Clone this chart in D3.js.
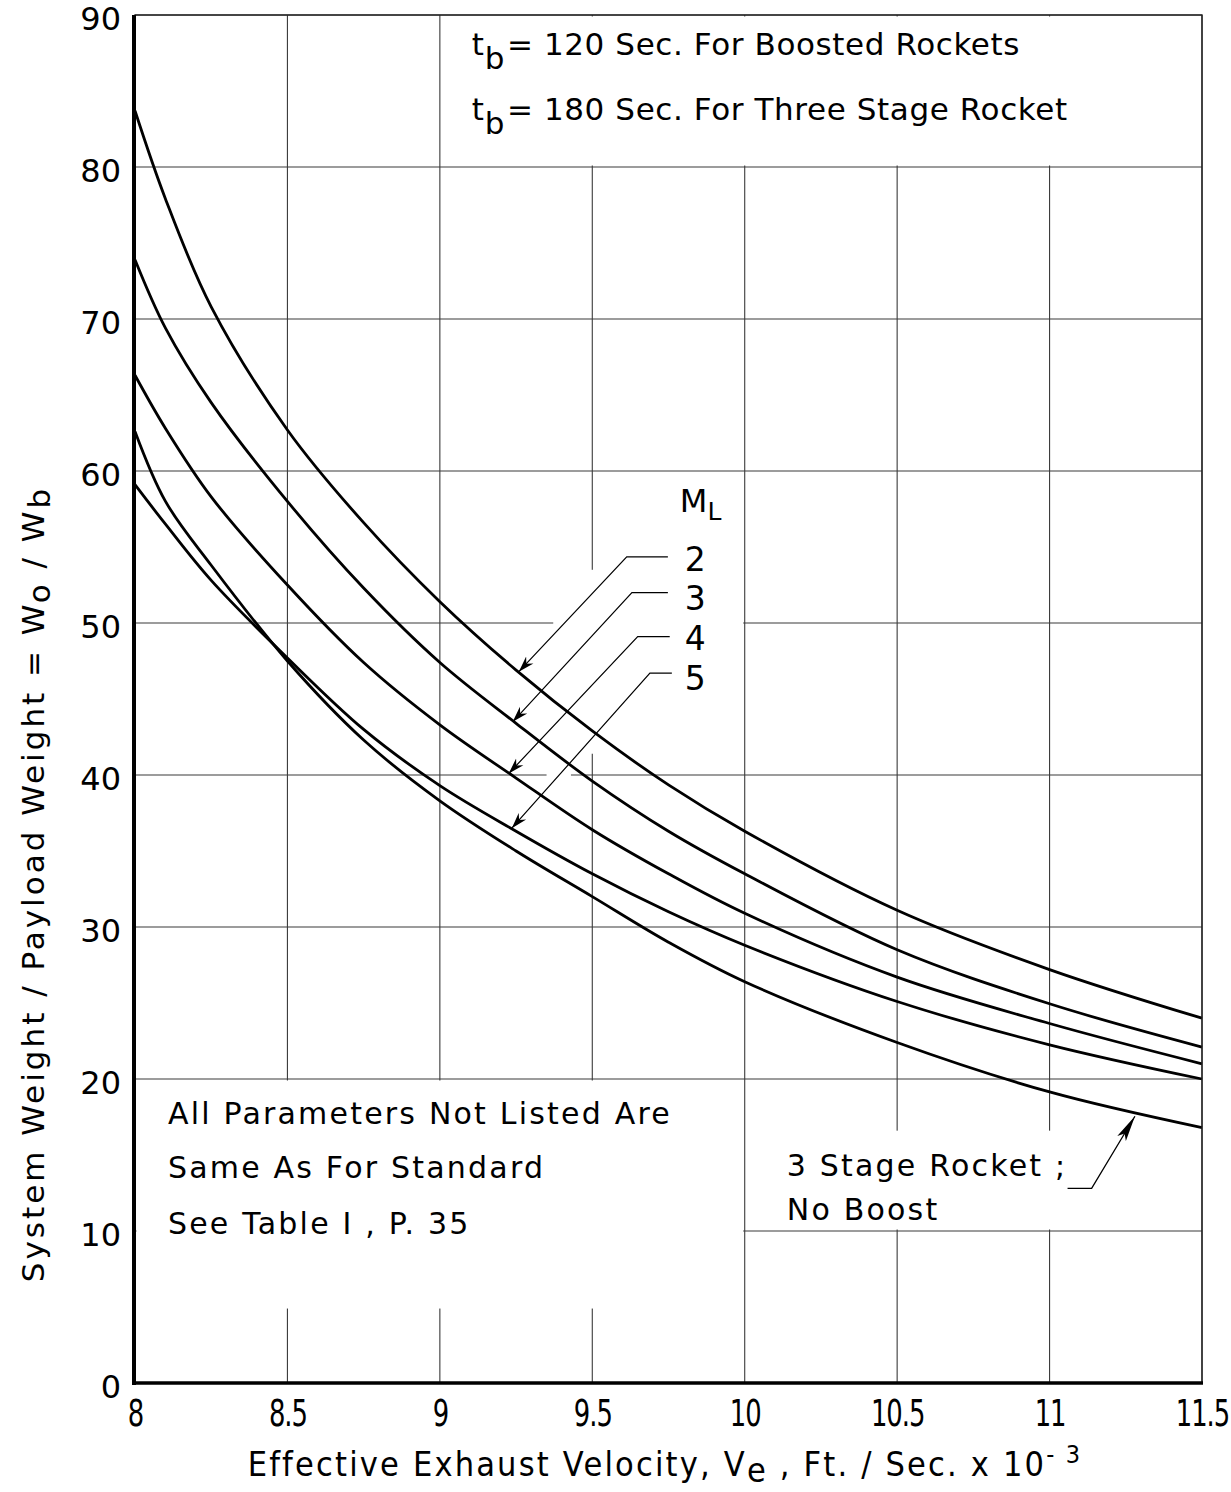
<!DOCTYPE html>
<html><head><meta charset="utf-8">
<script src="https://cdn.jsdelivr.net/npm/d3@7"></script>
<style>body{margin:0;background:#fff} svg{display:block}</style>
</head><body>
<svg id="chart" width="1231" height="1492"></svg>
<script>
// ---- data ----
const velocities = [8, 8.1, 8.25, 8.5, 8.75, 9, 9.25, 9.5, 9.75, 10, 10.5, 11, 11.5];
const seriesML2 = [83.7, 77.9, 70.8, 62.7, 56.6, 51.4, 46.9, 42.9, 39.35, 36.3, 31.1, 27.2, 24.0];
const seriesML3 = [73.9, 69.4, 64.5, 58.0, 52.3, 47.4, 43.4, 39.6, 36.3, 33.5, 28.5, 24.95, 22.1];
const seriesML4 = [66.3, 62.8, 58.3, 52.5, 47.4, 43.3, 39.8, 36.4, 33.5, 30.9, 26.7, 23.65, 21.0];
const seriesML5 = [59.1, 56.5, 52.8, 47.7, 43.0, 39.3, 36.3, 33.5, 31.0, 28.8, 25.1, 22.25, 20.0];
const seriesThreeStage = [62.6, 58.0, 53.8, 47.5, 42.3, 38.3, 35.0, 32.0, 29.0, 26.4, 22.4, 19.15, 16.8];
const xTicks = [8, 8.5, 9, 9.5, 10, 10.5, 11, 11.5];
const xTickLabels = ["8", "8.5", "9", "9.5", "10", "10.5", "11", "11.5"];
const yTicks = [0, 10, 20, 30, 40, 50, 60, 70, 80, 90];
const mlLabels = ["2", "3", "4", "5"];
// leader lines for M_L labels, in data units: [start, elbow, arrow tip]
const mlLeaders = [
  [[9.748, 54.35], [9.613, 54.35], [9.259, 46.8]],
  [[9.748, 52.0], [9.630, 52.0], [9.239, 43.5]],
  [[9.754, 49.1], [9.649, 49.1], [9.226, 40.1]],
  [[9.761, 46.7], [9.689, 46.7], [9.236, 36.5]]
];
const threeStageLeader = [[11.059, 12.8], [11.138, 12.8], [11.28, 17.55]];

// ---- scales ----
const svg = d3.select("#chart");
const x = d3.scaleLinear().domain([8, 11.5]).range([135, 1202]);
const y = d3.scaleLinear().domain([0, 90]).range([1383, 15]);
const FONT = "'DejaVu Sans', sans-serif";

// ---- grid ----
const grid = svg.append("g").attr("stroke", "#3a3a3a").attr("stroke-width", 1.1);
grid.selectAll("line.v").data(xTicks).join("line").attr("class", "v")
  .attr("x1", d => x(d)).attr("x2", d => x(d)).attr("y1", y(0)).attr("y2", y(90));
grid.selectAll("line.h").data(yTicks).join("line").attr("class", "h")
  .attr("x1", x(8)).attr("x2", x(11.5)).attr("y1", d => y(d)).attr("y2", d => y(d));

// white label boxes that interrupt the grid
const maskBoxes = [
  {x0: 9, x1: 11.5, y0: 80, y1: 90, inset: 1.5},
  {x0: 8, x1: 10, y0: 4.8, y1: 20, inset: 1.5},
  {x0: 10, x1: 11.5, y0: 10, y1: 16.7, inset: 1.5},
  {x0: 9.367, x1: 10, y0: 41.3, y1: 53.6, inset: 1.5},
  {x0: 9.35, x1: 9.43, y0: 39.6, y1: 40.4, inset: 0}
];
svg.append("g").selectAll("rect").data(maskBoxes).join("rect")
  .attr("x", d => x(d.x0) + d.inset).attr("y", d => y(d.y1) + d.inset)
  .attr("width", d => x(d.x1) - x(d.x0) - 2 * d.inset)
  .attr("height", d => y(d.y0) - y(d.y1) - 2 * d.inset)
  .attr("fill", "#fff");

// ---- curves ----
const allSeries = [seriesML2, seriesML3, seriesML4, seriesML5, seriesThreeStage];
const line = d3.line().x(d => x(d[0])).y(d => y(d[1])).curve(d3.curveCatmullRom.alpha(0.5));
svg.append("g").selectAll("path").data(allSeries).join("path")
  .attr("d", s => line(velocities.map((v, i) => [v, s[i]])))
  .attr("fill", "none").attr("stroke", "#000").attr("stroke-width", 2.8);

// ---- frame / axes ----
svg.append("rect").attr("x", x(8)).attr("y", y(90)).attr("width", x(11.5) - x(8)).attr("height", y(0) - y(90))
  .attr("fill", "none").attr("stroke", "#222").attr("stroke-width", 1.4);
svg.append("line").attr("x1", x(8) - 1).attr("x2", x(8) - 1).attr("y1", y(90)).attr("y2", y(0) + 2)
  .attr("stroke", "#000").attr("stroke-width", 4);
svg.append("line").attr("x1", x(8) - 2).attr("x2", x(11.5) + 1).attr("y1", y(0)).attr("y2", y(0))
  .attr("stroke", "#000").attr("stroke-width", 3.5);

const yAxis = svg.append("g").attr("transform", `translate(${x(8)},0)`)
  .call(d3.axisLeft(y).tickValues(yTicks).tickSize(0).tickPadding(14));
yAxis.select(".domain").remove();
yAxis.selectAll("text").attr("font-family", FONT).attr("font-size", 32).attr("fill", "#000").attr("dy", "0.45em");

const xAxis = svg.append("g").attr("transform", `translate(0,${y(0)})`)
  .call(d3.axisBottom(x).tickValues(xTicks).tickFormat((d, i) => xTickLabels[i]).tickSize(0).tickPadding(17));
xAxis.select(".domain").remove();
xAxis.selectAll("text").attr("font-family", FONT).attr("font-size", 37).attr("fill", "#000")
  .attr("letter-spacing", -1.5).attr("transform", "scale(0.7,1)");

// axis titles
const xt = svg.append("text").attr("x", 665).attr("y", 1476).attr("text-anchor", "middle")
  .attr("font-family", FONT).attr("font-size", 34).attr("letter-spacing", 2.4)
  .attr("transform", "translate(665,0) scale(0.9,1) translate(-665,0)");
xt.append("tspan").text("Effective  Exhaust  Velocity, V");
xt.append("tspan").attr("dy", 6).text("e");
xt.append("tspan").attr("dy", -6).text(" , Ft. / Sec. x 10");
xt.append("tspan").attr("dy", -13).attr("font-size", 25).text("- 3");

const yt = svg.append("text").attr("transform", "translate(44,884) rotate(-90)").attr("text-anchor", "middle")
  .attr("font-family", FONT).attr("font-size", 31).attr("letter-spacing", 3.0);
yt.append("tspan").text("System Weight / Payload Weight = W");
yt.append("tspan").attr("dy", 6).text("o");
yt.append("tspan").attr("dy", -6).text(" / W");
yt.append("tspan").attr("dy", 6).text("b");

// ---- annotations ----
function sublabel(xv, yv, main, sub, rest, size) {
  const t = svg.append("text").attr("x", x(xv)).attr("y", y(yv)).attr("font-family", FONT)
    .attr("font-size", size).attr("letter-spacing", 0.6);
  t.append("tspan").text(main);
  t.append("tspan").attr("dy", 14).text(sub);
  t.append("tspan").attr("dy", -14).attr("dx", 2).text(rest);
  return t;
}
sublabel(9.105, 87.4, "t", "b", "= 120 Sec. For Boosted Rockets", 31);
sublabel(9.105, 83.1, "t", "b", "= 180 Sec. For Three Stage Rocket", 31);

const noteLines = ["All  Parameters  Not  Listed  Are", "Same  As  For  Standard", "See  Table  I , P. 35"];
const noteY = [17.05, 13.5, 9.8];
svg.append("g").selectAll("text").data(noteLines).join("text")
  .attr("x", x(8.108)).attr("y", (d, i) => y(noteY[i]))
  .attr("font-family", FONT).attr("font-size", 30).attr("letter-spacing", 2.2).text(d => d);

const stageLines = ["3 Stage  Rocket ;", "No  Boost"];
const stageY = [13.65, 10.7];
svg.append("g").selectAll("text").data(stageLines).join("text")
  .attr("x", x(10.138)).attr("y", (d, i) => y(stageY[i]))
  .attr("font-family", FONT).attr("font-size", 30).attr("letter-spacing", 2.2).text(d => d);

// M_L label
const ml = svg.append("text").attr("x", x(9.787)).attr("y", y(57.3)).attr("font-family", FONT).attr("font-size", 32);
ml.append("tspan").text("M");
ml.append("tspan").attr("dy", 8).attr("font-size", 25).text("L");
const mlY = [53.4, 50.85, 48.2, 45.6];
svg.append("g").selectAll("text").data(mlLabels).join("text")
  .attr("x", x(9.803)).attr("y", (d, i) => y(mlY[i]))
  .attr("font-family", FONT).attr("font-size", 33).text(d => d);

// arrow markers
const defs = svg.append("defs");
defs.append("marker").attr("id", "barb").attr("viewBox", "-16 -6 18 12").attr("refX", 0).attr("refY", 0)
  .attr("markerWidth", 18).attr("markerHeight", 12).attr("markerUnits", "userSpaceOnUse").attr("orient", "auto")
  .append("path").attr("d", "M0,0 L-16,-5 L-11,0 L-16,5 Z").attr("fill", "#000");
defs.append("marker").attr("id", "solid").attr("viewBox", "-26 -6 28 12").attr("refX", 0).attr("refY", 0)
  .attr("markerWidth", 28).attr("markerHeight", 12).attr("markerUnits", "userSpaceOnUse").attr("orient", "auto")
  .append("path").attr("d", "M0,0 L-26,-5 L-20,0 L-26,5 Z").attr("fill", "#000");

const leaderLine = d3.line().x(d => x(d[0])).y(d => y(d[1]));
svg.append("g").selectAll("path").data(mlLeaders).join("path")
  .attr("d", leaderLine).attr("fill", "none").attr("stroke", "#000").attr("stroke-width", 1.2)
  .attr("marker-end", "url(#barb)");
svg.append("path").attr("d", leaderLine(threeStageLeader)).attr("fill", "none")
  .attr("stroke", "#000").attr("stroke-width", 1.3).attr("marker-end", "url(#solid)");
</script>
</body></html>
